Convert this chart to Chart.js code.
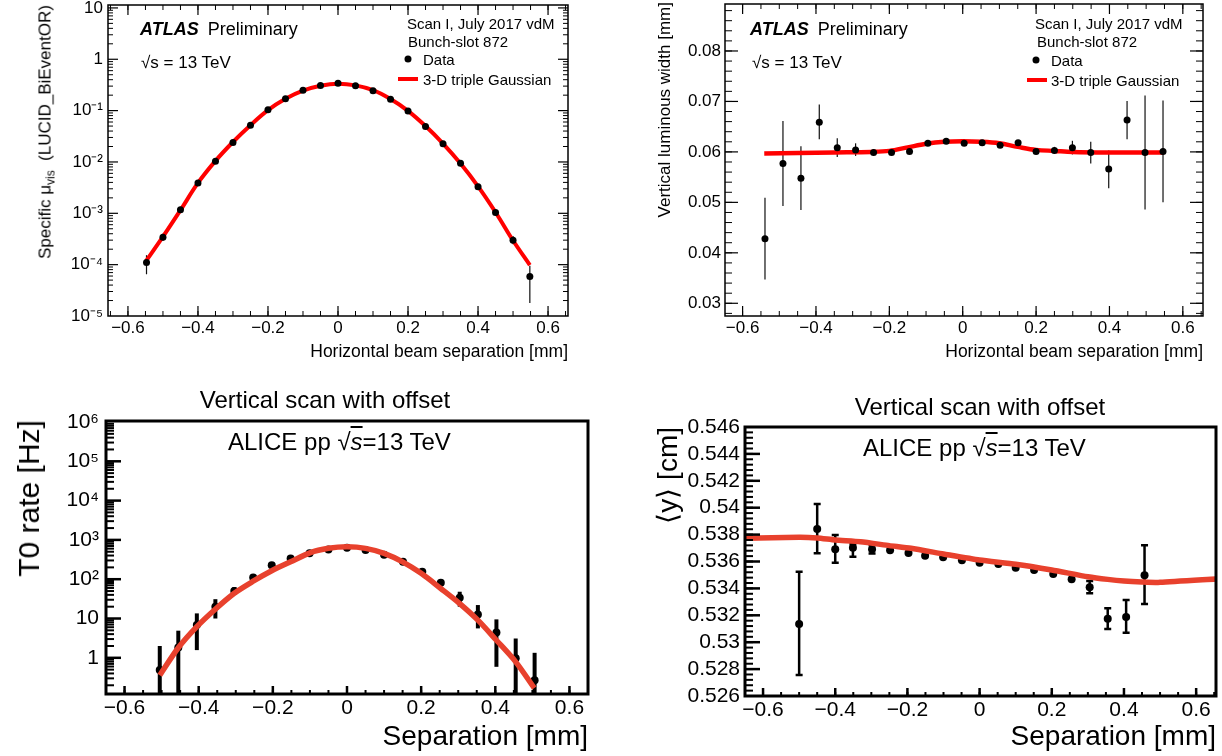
<!DOCTYPE html>
<html><head><meta charset="utf-8">
<script src="https://cdn.jsdelivr.net/npm/chart.js@4.4.1/dist/chart.umd.min.js"></script>
<style>
html,body{margin:0;padding:0;background:#fff;}
#wrap{position:relative;width:1222px;height:756px;overflow:hidden;font-family:"Liberation Sans",Arial,Helvetica,sans-serif;color:#000;background:#fff;}
canvas{position:absolute;left:0;top:0;}
.t{position:absolute;white-space:nowrap;line-height:1;transform:translateY(-50%);}
.c{position:absolute;white-space:nowrap;line-height:1;transform:translate(-50%,-50%);}
.r{position:absolute;white-space:nowrap;line-height:1;transform-origin:0 0;transform:rotate(-90deg) translate(-100%,-50%);}
.dot{position:absolute;width:7px;height:7px;border-radius:50%;background:#000;transform:translate(-50%,-50%);}
.ln{position:absolute;height:4px;background:#ff0000;transform:translateY(-50%);}
sub{font-size:70%;vertical-align:-0.3em;line-height:0;}
</style></head>
<body>
<div id="wrap">
<canvas id="cA" width="1222" height="756"></canvas>
<canvas id="cB" width="1222" height="756"></canvas>
<canvas id="cC" width="1222" height="756"></canvas>
<canvas id="cD" width="1222" height="756"></canvas>

<!-- Panel A texts -->
<div class="t" style="left:140px;top:29px;font-size:18px"><b><i>ATLAS</i></b><span style="margin-left:9px">Preliminary</span></div>
<div class="t" style="left:141px;top:62px;font-size:17px">√s = 13 TeV</div>
<div class="t" style="left:407px;top:23px;font-size:15px">Scan I, July 2017 vdM</div>
<div class="t" style="left:408px;top:41px;font-size:15px">Bunch-slot 872</div>
<div class="dot" style="left:408px;top:59px"></div>
<div class="t" style="left:423px;top:59px;font-size:15px">Data</div>
<div class="ln" style="left:398px;top:79px;width:20px"></div>
<div class="t" style="left:423px;top:79px;font-size:15px">3-D triple Gaussian</div>
<div class="r" style="left:45px;top:5px;font-size:17px">Specific μ<sub>vis</sub>&nbsp; (LUCID_BiEventOR)</div>
<div class="t" style="right:654px;top:352px;font-size:17.5px">Horizontal beam separation [mm]</div>

<!-- Panel B texts -->
<div class="t" style="left:750px;top:29px;font-size:18px"><b><i>ATLAS</i></b><span style="margin-left:9px">Preliminary</span></div>
<div class="t" style="left:752px;top:62px;font-size:17px">√s = 13 TeV</div>
<div class="t" style="left:1035px;top:23px;font-size:15px">Scan I, July 2017 vdM</div>
<div class="t" style="left:1037px;top:41px;font-size:15px">Bunch-slot 872</div>
<div class="dot" style="left:1036px;top:60px"></div>
<div class="t" style="left:1051px;top:60px;font-size:15px">Data</div>
<div class="ln" style="left:1027px;top:80px;width:20px"></div>
<div class="t" style="left:1051px;top:80px;font-size:15px">3-D triple Gaussian</div>
<div class="r" style="left:664px;top:2px;font-size:17px">Vertical luminous width [mm]</div>
<div class="t" style="right:19px;top:352px;font-size:17.5px">Horizontal beam separation [mm]</div>

<!-- Panel C texts -->
<div class="c" style="left:325px;top:400px;font-size:24px">Vertical scan with offset</div>
<div class="t" style="left:228px;top:442px;font-size:24px">ALICE pp √<span style="font-style:italic;text-decoration:overline">s</span>=13 TeV</div>
<div class="r" style="left:29px;top:420px;font-size:30px">T0 rate [Hz]</div>
<div class="t" style="right:634px;top:736px;font-size:28px">Separation [mm]</div>

<!-- Panel D texts -->
<div class="c" style="left:980px;top:407px;font-size:24px">Vertical scan with offset</div>
<div class="t" style="left:863px;top:448px;font-size:24px">ALICE pp √<span style="font-style:italic;text-decoration:overline">s</span>=13 TeV</div>
<div class="r" style="left:668px;top:427px;font-size:28px">⟨y⟩ [cm]</div>
<div class="t" style="right:6px;top:736px;font-size:28px">Separation [mm]</div>
</div>

<script>
// ================= DATA =================
const sepTicks = [-0.6, -0.4, -0.2, 0, 0.2, 0.4, 0.6];

// Panel A: ATLAS specific mu_vis vs horizontal separation (log)
const muSep = [-0.547,-0.5,-0.45,-0.4,-0.35,-0.3,-0.25,-0.2,-0.15,-0.1,-0.05,0,0.05,0.1,0.15,0.2,0.25,0.3,0.35,0.4,0.45,0.5,0.548];
const muVal = [1.1e-4,3.4e-4,1.17e-3,3.9e-3,1.03e-2,2.4e-2,5.2e-2,0.104,0.17,0.25,0.31,0.34,0.305,0.244,0.166,0.098,0.049,0.0226,9.4e-3,3.3e-3,1.04e-3,3.0e-4,5.9e-5];
const muErrLo = [6.5e-5,2.9e-4,null,null,null,null,null,null,null,null,null,null,null,null,null,null,null,null,null,null,null,2.5e-4,1.8e-5];
const muErrHi = [1.53e-4,4.0e-4,null,null,null,null,null,null,null,null,null,null,null,null,null,null,null,null,null,null,null,3.6e-4,9.5e-5];
const muFitSep = [-0.548,-0.5,-0.45,-0.4,-0.35,-0.3,-0.25,-0.2,-0.15,-0.1,-0.05,0,0.05,0.1,0.15,0.2,0.25,0.3,0.35,0.4,0.45,0.5,0.548];
const muFitVal = [1.18e-4,3.5e-4,1.15e-3,3.9e-3,1.05e-2,2.45e-2,5.2e-2,0.102,0.17,0.245,0.305,0.335,0.31,0.25,0.168,0.099,0.05,0.0228,9.3e-3,3.35e-3,1.05e-3,2.95e-4,9.8e-5];
const muTicks = [1e-5,1e-4,1e-3,1e-2,1e-1,1,10];

// Panel B: ATLAS vertical luminous width
const wSep = [-0.539,-0.49,-0.441,-0.391,-0.342,-0.292,-0.243,-0.194,-0.145,-0.095,-0.045,0.004,0.053,0.102,0.151,0.2,0.25,0.299,0.349,0.398,0.448,0.497,0.546];
const wVal = [0.0428,0.0577,0.0548,0.0659,0.0608,0.0604,0.0599,0.0599,0.0601,0.0617,0.0621,0.0617,0.0618,0.0613,0.0618,0.0601,0.0603,0.0608,0.0599,0.0566,0.0663,0.0599,0.0601];
const wErrLo = [0.0347,0.0493,0.0485,0.0625,0.0590,0.0592,0.0593,0.0594,0.0596,0.0613,0.0617,0.0613,0.0614,0.0609,0.0613,0.0597,0.0596,0.0595,0.0577,0.0528,0.0625,0.0486,0.0500];
const wErrHi = [0.0509,0.0661,0.0611,0.0694,0.0627,0.0617,0.0605,0.0604,0.0606,0.0621,0.0625,0.0621,0.0622,0.0617,0.0623,0.0605,0.0610,0.0622,0.0620,0.0603,0.0701,0.0712,0.0702];
const wFitSep = [-0.541,-0.45,-0.35,-0.25,-0.2,-0.15,-0.1,-0.05,0,0.05,0.1,0.15,0.2,0.25,0.3,0.4,0.5,0.546];
const wFitVal = [0.0597,0.0598,0.0599,0.0600,0.0602,0.0609,0.0616,0.0620,0.0621,0.0620,0.0617,0.0610,0.0604,0.0602,0.0600,0.0599,0.0599,0.0599];
const wTicks = [0.03,0.04,0.05,0.06,0.07,0.08];

// Panel C: ALICE T0 rate (log)
const rateSep = [-0.505,-0.455,-0.405,-0.355,-0.304,-0.253,-0.203,-0.152,-0.101,-0.05,0,0.05,0.1,0.151,0.203,0.253,0.304,0.353,0.403,0.455,0.506];
const rateVal = [0.49,1.84,6.8,20,50,111,225,338,455,574,630,550,416,277,155,81,33.6,12.7,4.4,0.97,0.27];
const rateErrLo = [0.01,0.01,1.57,10,40,null,null,null,null,null,null,null,null,null,null,null,20,5.6,0.59,0.01,0.01];
const rateErrHi = [2.0,4.9,13.5,31,63,null,null,null,null,null,null,null,null,null,null,null,48,22,9.5,3.1,1.34];
const rateFitSep = [-0.505,-0.455,-0.405,-0.356,-0.304,-0.253,-0.203,-0.152,-0.1,-0.05,0,0.05,0.1,0.15,0.2,0.253,0.304,0.353,0.403,0.455,0.505];
const rateFitVal = [0.36,1.8,6.2,17,44,89,164,277,470,610,666,610,455,277,141,58,24,9.1,2.8,0.79,0.17];
const rateTicks = [1,10,100,1e3,1e4,1e5,1e6];

// Panel D: ALICE <y>
const ySep = [-0.5,-0.45,-0.4,-0.351,-0.298,-0.248,-0.197,-0.151,-0.101,-0.049,0,0.052,0.1,0.151,0.204,0.255,0.305,0.355,0.406,0.457];
const yVal = [0.53135,0.53842,0.53691,0.53703,0.53691,0.53683,0.53663,0.53643,0.53631,0.53609,0.53591,0.53581,0.53554,0.53537,0.53507,0.53468,0.53408,0.53175,0.53187,0.53497];
const yErrLo = [0.52756,0.53661,0.53591,0.53636,0.5366,null,null,null,null,null,null,null,null,null,null,null,0.53364,0.53098,0.53071,0.53284];
const yErrHi = [0.53524,0.54027,0.53797,0.53728,0.5372,null,null,null,null,null,null,null,null,null,null,null,0.53455,0.53252,0.53314,0.5372];
const yFitSep = [-0.65,-0.5,-0.45,-0.4,-0.33,-0.25,-0.19,-0.1,0,0.1,0.2,0.3,0.355,0.4,0.45,0.5,0.655];
const yFitVal = [0.53772,0.5378,0.53775,0.5376,0.53747,0.53718,0.53698,0.53656,0.53611,0.5358,0.53537,0.53487,0.53467,0.53455,0.53448,0.53445,0.5347];
const yTicks = [0.526,0.528,0.53,0.532,0.534,0.536,0.538,0.54,0.542,0.544,0.546];

// ================= RENDERING =================
const FONT = '"Liberation Sans", Arial, Helvetica, sans-serif';
Chart.defaults.font.family = FONT;
const CW = 1222, CH = 756, YW = 100, XH = 60;
const SUP = {'-':'\u207B','0':'\u2070','1':'\u00B9','2':'\u00B2','3':'\u00B3','4':'\u2074','5':'\u2075','6':'\u2076','7':'\u2077','8':'\u2078','9':'\u2079'};
function fmtLin(v){ const r = Math.round(v*1000)/1000; if (r === 0) return '0'; return (r < 0 ? '\u2212' : '') + String(Math.abs(r)); }
function fmtLog(v){ const e = Math.round(Math.log10(v)); if (e === 0) return '1'; if (e === 1) return '10'; return '10' + String(e).split('').map(c => SUP[c]).join(''); }
function steps(a, b, st){ const r = []; for (let k = 0; a + k*st <= b + 1e-9; k++) r.push(+(a + k*st).toFixed(6)); return r; }
function logMinor(e0, e1){ const r = []; for (let e = e0; e <= e1; e++) for (let m = 2; m <= 9; m++) r.push(m*Math.pow(10, e)); return r; }
const pts = (xs, ys) => xs.map((x, i) => ({x: x, y: ys[i]}));

const ROOTCFG = {};
const rootPlugin = {
  id: 'rootFrame',
  beforeDatasetsDraw(chart){
    const o = ROOTCFG[chart.canvas.id]; if (!o || !o.err) return;
    const e = o.err, ctx = chart.ctx, a = chart.chartArea, xs = chart.scales.x, ys = chart.scales.y;
    ctx.save(); ctx.beginPath(); ctx.rect(a.left, a.top, a.right - a.left, a.bottom - a.top); ctx.clip();
    ctx.strokeStyle = e.color; ctx.lineWidth = e.width; ctx.lineCap = 'butt';
    for (let i = 0; i < e.x.length; i++){
      if (e.lo[i] == null) continue;
      const px = xs.getPixelForValue(e.x[i]);
      const p1 = ys.getPixelForValue(e.lo[i]), p2 = ys.getPixelForValue(e.hi[i]);
      ctx.beginPath(); ctx.moveTo(px, p1); ctx.lineTo(px, p2);
      if (e.cap){ ctx.moveTo(px - e.cap, p1); ctx.lineTo(px + e.cap, p1); ctx.moveTo(px - e.cap, p2); ctx.lineTo(px + e.cap, p2); }
      ctx.stroke();
    }
    ctx.restore();
  },
  afterDraw(chart){
    const o = ROOTCFG[chart.canvas.id]; if (!o) return;
    const ctx = chart.ctx, a = chart.chartArea, xs = chart.scales.x, ys = chart.scales.y;
    ctx.save(); ctx.strokeStyle = '#000'; ctx.lineCap = 'butt';
    const seg = (x1, y1, x2, y2) => { ctx.beginPath(); ctx.moveTo(x1, y1); ctx.lineTo(x2, y2); ctx.stroke(); };
    const S = o.sides;
    const xl = [[o.xMinor, o.xMinorLen, o.minorW], [o.xMajor, o.xMajorLen, o.majorW]];
    for (const [vals, len, lw] of xl){
      ctx.lineWidth = lw;
      for (const v of vals){ const px = xs.getPixelForValue(v); if (px < a.left + 1 || px > a.right - 1) continue;
        if (S.includes('b')) seg(px, a.bottom, px, a.bottom - len);
        if (S.includes('t')) seg(px, a.top, px, a.top + len); }
    }
    const yl = [[o.yMinor, o.yMinorLen, o.minorW], [o.yMajor, o.yMajorLen, o.majorW]];
    for (const [vals, len, lw] of yl){
      ctx.lineWidth = lw;
      for (const v of vals){ const py = ys.getPixelForValue(v); if (py < a.top + 1 || py > a.bottom - 1) continue;
        if (S.includes('l')) seg(a.left, py, a.left + len, py);
        if (S.includes('r')) seg(a.right, py, a.right - len, py); }
    }
    ctx.lineWidth = o.frameW; ctx.strokeRect(a.left, a.top, a.right - a.left, a.bottom - a.top);
    ctx.restore();
  }
};

function panel(id, P){
  ROOTCFG[id] = P.root;
  const yLog = P.yType === 'logarithmic';
  return new Chart(document.getElementById(id), {
    type: 'scatter',
    data: { datasets: P.datasets },
    options: {
      responsive: false, animation: false, devicePixelRatio: 1, events: [],
      layout: { padding: { left: P.frame.l - YW, top: P.frame.t, right: CW - P.frame.r, bottom: CH - P.frame.b - XH } },
      plugins: { legend: { display: false }, tooltip: { enabled: false } },
      scales: {
        x: { type: 'linear', position: 'bottom', min: P.xMin, max: P.xMax,
          afterBuildTicks: s => { s.ticks = sepTicks.map(v => ({value: v})); },
          afterFit: s => { s.height = XH; s.paddingLeft = 0; s.paddingRight = 0; },
          grid: { display: false, drawTicks: false }, border: { display: false },
          ticks: { autoSkip: false, maxRotation: 0, minRotation: 0, padding: P.xPad, color: '#000',
            font: { family: FONT, size: P.tickSize }, callback: v => fmtLin(v) } },
        y: { type: P.yType, position: 'left', min: P.yMin, max: P.yMax,
          afterBuildTicks: s => { s.ticks = P.yTicks.map(v => ({value: v})); },
          afterFit: s => { s.width = YW; s.paddingTop = 0; s.paddingBottom = 0; },
          grid: { display: false, drawTicks: false }, border: { display: false },
          ticks: { autoSkip: false, padding: P.yPad, color: '#000',
            font: { family: FONT, size: P.tickSize }, callback: v => yLog ? fmtLog(v) : fmtLin(v) } }
      }
    },
    plugins: [rootPlugin]
  });
}

const ATLAS_RED = '#ff0000', ALICE_RED = '#e8412d';

// Panel A
panel('cA', {
  frame: {l: 108, t: 5, r: 568, b: 316}, xMin: -0.657, xMax: 0.657,
  yType: 'logarithmic', yMin: 1e-5, yMax: 11.4, yTicks: muTicks, tickSize: 17, xPad: 2, yPad: 5,
  datasets: [
    {label: 'Data', data: pts(muSep, muVal), showLine: false, pointRadius: 3.5, pointBackgroundColor: '#000', pointBorderWidth: 0},
    {label: '3-D triple Gaussian', data: pts(muFitSep, muFitVal), showLine: true, borderColor: ATLAS_RED, borderWidth: 4, pointRadius: 0, tension: 0.35, fill: false}
  ],
  root: { sides: 'bltr', frameW: 1.5, majorW: 1.2, minorW: 1,
    xMajor: sepTicks, xMinor: steps(-0.65, 0.65, 0.05), xMajorLen: 10, xMinorLen: 5,
    yMajor: muTicks, yMinor: logMinor(-5, 1), yMajorLen: 10, yMinorLen: 5,
    err: {x: muSep, lo: muErrLo, hi: muErrHi, color: '#111', width: 1.2, cap: 0} }
});

// Panel B
panel('cB', {
  frame: {l: 725, t: 4, r: 1203, b: 316}, xMin: -0.648, xMax: 0.655,
  yType: 'linear', yMin: 0.02748, yMax: 0.08931, yTicks: wTicks, tickSize: 17, xPad: 2, yPad: 4,
  datasets: [
    {label: 'Data', data: pts(wSep, wVal), showLine: false, pointRadius: 3.5, pointBackgroundColor: '#000', pointBorderWidth: 0},
    {label: '3-D triple Gaussian', data: pts(wFitSep, wFitVal), showLine: true, borderColor: ATLAS_RED, borderWidth: 4.5, pointRadius: 0, tension: 0.35, fill: false}
  ],
  root: { sides: 'bltr', frameW: 1.5, majorW: 1.2, minorW: 1,
    xMajor: sepTicks, xMinor: steps(-0.65, 0.65, 0.05), xMajorLen: 10, xMinorLen: 5,
    yMajor: wTicks, yMinor: steps(0.028, 0.088, 0.002), yMajorLen: 13, yMinorLen: 7,
    err: {x: wSep, lo: wErrLo, hi: wErrHi, color: '#111', width: 1.2, cap: 0} }
});

// Panel C
panel('cC', {
  frame: {l: 106, t: 421, r: 588, b: 694}, xMin: -0.65, xMax: 0.65,
  yType: 'logarithmic', yMin: 0.12, yMax: 1.06e6, yTicks: rateTicks, tickSize: 21, xPad: 2, yPad: 7,
  datasets: [
    {label: 'Fit', data: pts(rateFitSep, rateFitVal), showLine: true, borderColor: ALICE_RED, borderWidth: 5.5, pointRadius: 0, tension: 0.3, fill: false},
    {label: 'Data', data: pts(rateSep, rateVal), showLine: false, pointRadius: 4, pointBackgroundColor: '#000', pointBorderWidth: 0}
  ],
  root: { sides: 'bl', frameW: 3, majorW: 2.5, minorW: 2,
    xMajor: sepTicks, xMinor: steps(-0.65, 0.65, 0.05), xMajorLen: 8, xMinorLen: 4,
    yMajor: rateTicks, yMinor: logMinor(-1, 6), yMajorLen: 15, yMinorLen: 8,
    err: {x: rateSep, lo: rateErrLo, hi: rateErrHi, color: '#000', width: 4, cap: 0} }
});

// Panel D
panel('cD', {
  frame: {l: 745, t: 427, r: 1216, b: 696}, xMin: -0.65, xMax: 0.655,
  yType: 'linear', yMin: 0.526, yMax: 0.546, yTicks: yTicks, tickSize: 21, xPad: 2, yPad: 5,
  datasets: [
    {label: 'Fit', data: pts(yFitSep, yFitVal), showLine: true, borderColor: ALICE_RED, borderWidth: 5.5, pointRadius: 0, tension: 0.2, fill: false},
    {label: 'Data', data: pts(ySep, yVal), showLine: false, pointRadius: 4, pointBackgroundColor: '#000', pointBorderWidth: 0}
  ],
  root: { sides: 'bl', frameW: 3, majorW: 2.5, minorW: 2,
    xMajor: sepTicks, xMinor: steps(-0.65, 0.65, 0.05), xMajorLen: 8, xMinorLen: 4,
    yMajor: yTicks, yMinor: steps(0.526, 0.546, 0.0004), yMajorLen: 15, yMinorLen: 8,
    err: {x: ySep, lo: yErrLo, hi: yErrHi, color: '#000', width: 2.5, cap: 3.5} }
});
</script>
</body></html>
